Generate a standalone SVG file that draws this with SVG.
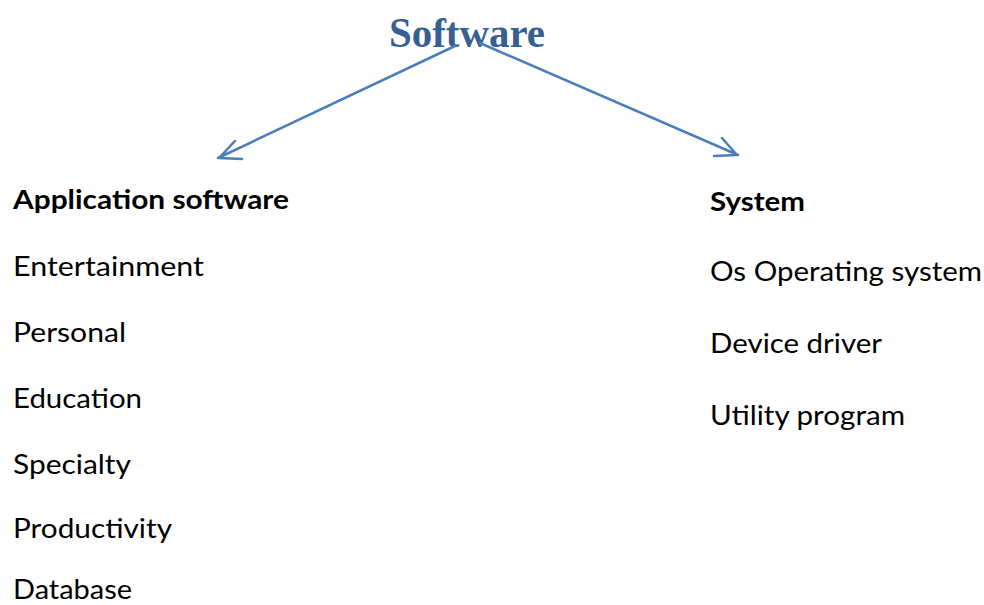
<svg xmlns="http://www.w3.org/2000/svg" width="984" height="605" viewBox="0 0 984 605">
<style>
.t{font-family:Lato,"Open Sans","Liberation Sans",sans-serif;font-size:27px;fill:#000}
.b{font-weight:bold}
.title{font-family:"Liberation Serif","DejaVu Serif",serif;font-weight:bold;font-size:42px;fill:#376092}
.c{stroke:#4A7EBB;stroke-width:2.5;fill:none;stroke-linecap:round;stroke-linejoin:round}
</style>
<rect width="984" height="605" fill="#fff"/>
<g id="title"><text class="title" x="389" y="47" textLength="156" lengthAdjust="spacingAndGlyphs">Software</text></g>
<g id="connectors">
<path class="c" d="M455,46 L218,158 M219,158 L235,141 M219,158 L242,159"/>
<path class="c" d="M480,43 L738,155 M737,155 L714,156 M737,155 L722,138"/>
</g>
<g id="app">
<text class="t b" x="13" y="209" textLength="276" lengthAdjust="spacingAndGlyphs">Application software</text>
<text class="t" x="13" y="276" textLength="191" lengthAdjust="spacingAndGlyphs">Entertainment</text>
<text class="t" x="13" y="342" textLength="113" lengthAdjust="spacingAndGlyphs">Personal</text>
<text class="t" x="13" y="408" textLength="129" lengthAdjust="spacingAndGlyphs">Education</text>
<text class="t" x="13" y="474" textLength="118" lengthAdjust="spacingAndGlyphs">Specialty</text>
<text class="t" x="13" y="538" textLength="159" lengthAdjust="spacingAndGlyphs">Productivity</text>
<text class="t" x="13" y="599" textLength="119" lengthAdjust="spacingAndGlyphs">Database</text>
</g>
<g id="system">
<text class="t b" x="710" y="211" textLength="95" lengthAdjust="spacingAndGlyphs">System</text>
<text class="t" x="710" y="281" textLength="272" lengthAdjust="spacingAndGlyphs">Os Operating system</text>
<text class="t" x="710" y="353" textLength="172" lengthAdjust="spacingAndGlyphs">Device driver</text>
<text class="t" x="710" y="425" textLength="195" lengthAdjust="spacingAndGlyphs">Utility program</text>
</g>
</svg>
